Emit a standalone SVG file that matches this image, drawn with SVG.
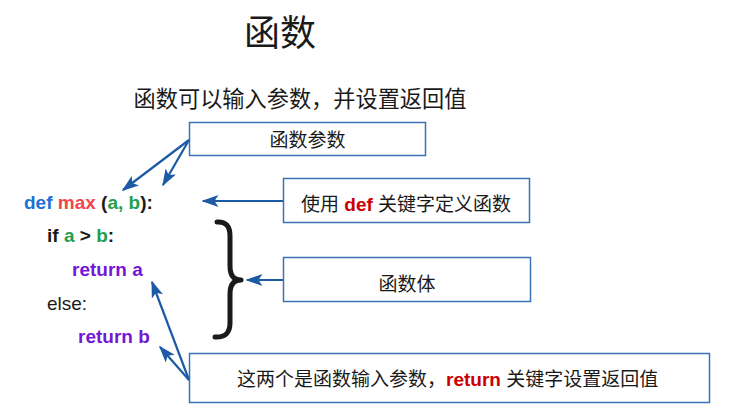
<svg xmlns="http://www.w3.org/2000/svg" width="733" height="416" viewBox="0 0 733 416">
<style>
.cjk{font-family:"Liberation Sans","Noto Sans CJK SC",sans-serif;fill:#1a1a1a}
.code{font-family:"Liberation Sans","Noto Sans CJK SC",sans-serif;font-size:19px;font-weight:bold;fill:#1a1a1a}
.plain{font-weight:normal}
.box{fill:#ffffff;stroke:#3a74b4;stroke-width:1.5}
.lbl{font-size:19px}
.arr{stroke:#1d5aa6;stroke-width:2.2;fill:none;marker-end:url(#ah)}
.kw{font-weight:bold;fill:#cc0000}
.blue{fill:#1f6fd8}.red{fill:#f2454c}.green{fill:#23a04e}.purple{fill:#7416d6}
</style>
<defs>
<marker id="ah" markerUnits="userSpaceOnUse" markerWidth="17" markerHeight="12" viewBox="0 0 17 12" refX="15.5" refY="6" orient="auto">
<path d="M0,0 L17,6 L0,12 L4,6 Z" fill="#1d5aa6"/>
</marker>
</defs>
<rect width="733" height="416" fill="#ffffff"/>
<g id="title"><text class="cjk" x="280" y="46" font-size="36" text-anchor="middle">函数</text></g>
<g id="subtitle"><text class="cjk" x="300" y="107" font-size="22.2" text-anchor="middle">函数可以输入参数，并设置返回值</text></g>
<g id="code">
<text class="code" x="24" y="209" font-size="19.4"><tspan class="blue">def</tspan> <tspan class="red">max</tspan> (<tspan class="green">a, b</tspan>):</text>
<text class="code" x="47" y="242">if <tspan class="green">a</tspan> &gt; <tspan class="green">b</tspan>:</text>
<text class="code purple" x="72" y="276">return a</text>
<text class="code plain" x="47" y="310">else:</text>
<text class="code purple" x="78" y="343">return b</text>
</g>
<g id="brace"><path d="M217,222 Q230,221 230,236 L230,266 Q230,280 241,280 Q230,280 230,294 L230,323 Q230,338 215,337" fill="none" stroke="#1a1a1a" stroke-width="5" stroke-linecap="round" stroke-linejoin="round"/></g>
<g id="n-params"><rect class="box" x="189.5" y="122.5" width="236" height="33"/><text class="cjk lbl" x="307.5" y="147" text-anchor="middle">函数参数</text></g>
<g id="n-def"><rect class="box" x="283.5" y="178.5" width="246" height="44"/><text class="cjk lbl" x="301" y="211">使用 <tspan class="kw">def</tspan> 关键字定义函数</text></g>
<g id="n-body"><rect class="box" x="283.5" y="257.5" width="247" height="44"/><text class="cjk lbl" x="407" y="291" text-anchor="middle">函数体</text></g>
<g id="n-return"><rect class="box" x="189.5" y="353.5" width="520" height="49"/><text class="cjk lbl" x="237" y="386">这两个是函数输入参数，<tspan class="kw">return</tspan> 关键字设置返回值</text></g>
<g id="connectors">
<line class="arr" x1="189" y1="140" x2="123" y2="190"/>
<line class="arr" x1="189" y1="140" x2="163" y2="185"/>
<line class="arr" x1="283" y1="201" x2="203" y2="201"/>
<line class="arr" x1="283" y1="280" x2="247" y2="280"/>
<line class="arr" x1="189" y1="380" x2="152" y2="282"/>
<line class="arr" x1="189" y1="380" x2="160" y2="347"/>
</g>
</svg>
